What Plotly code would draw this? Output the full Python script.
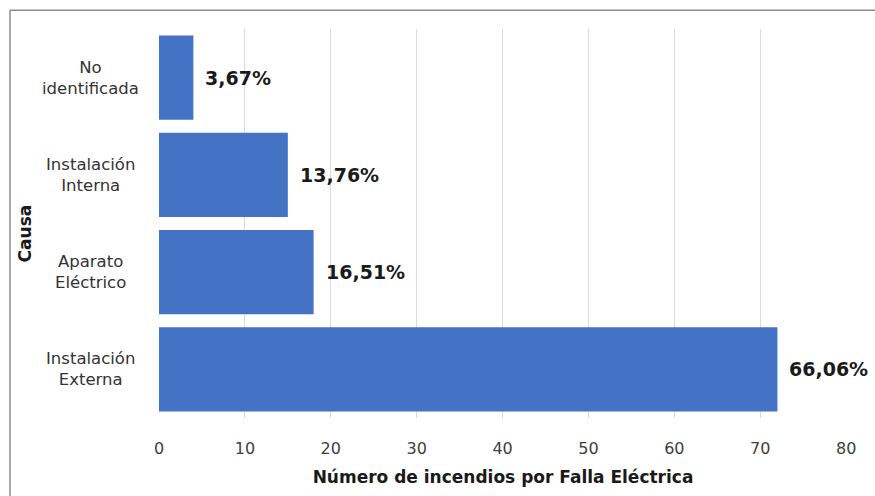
import plotly.graph_objects as go

categories = ["Instalación<br>Externa", "Aparato<br>Eléctrico", "Instalación<br>Interna", "No<br>identificada"]
values = [72, 18, 15, 4]
labels = ["66,06%", "16,51%", "13,76%", "3,67%"]

FONT = "DejaVu Sans"
L, R, T, B = 159, 28, 29, 75
W, H = 875, 496
PW, PH = W - L - R, H - T - B

def px_x(p):
    return (p - L) / PW

def px_y(p):
    return 1 - (p - T) / PH

fig = go.Figure()
fig.add_trace(go.Bar(
    y=categories, x=values, orientation="h",
    marker=dict(color="#4472C4", line=dict(width=0)),
    hoverinfo="skip",
))
for c, v, t in zip(categories, values, labels):
    fig.add_annotation(x=v, y=c, text="<b>" + t + "</b>", showarrow=False,
                       xanchor="left", xshift=10,
                       font=dict(family=FONT, size=19, color="#1a1a1a"))
    fig.add_annotation(x=px_x(90), xref="paper", y=c, yref="y", text=c, showarrow=False,
                       xanchor="center", align="center",
                       font=dict(family=FONT, size=16.5, color="#333333"))

fig.add_annotation(x=px_x(25), xref="paper", y=px_y(235), yref="paper", text="<b>Causa</b>",
                   showarrow=False, textangle=-90, xanchor="center", yanchor="middle",
                   font=dict(family=FONT, size=17, color="#1a1a1a"))

fig.update_layout(
    width=W, height=H,
    margin=dict(l=L, r=R, t=T, b=B),
    paper_bgcolor="white", plot_bgcolor="white",
    bargap=0.135,
    showlegend=False,
    font=dict(family=FONT, size=15, color="#333333"),
    xaxis=dict(range=[0, 80.1], dtick=10, showgrid=True, gridcolor="#d9d9d9", gridwidth=1,
               zeroline=False, showline=False, ticks="", ticklen=0,
               ticklabelstandoff=19,
               tickfont=dict(size=16, color="#404040"),
               title=dict(text="<b>Número de incendios por Falla Eléctrica</b>",
                          font=dict(size=17, color="#1a1a1a"), standoff=14)),
    yaxis=dict(showgrid=False, zeroline=False, showline=False, ticks="",
               showticklabels=False),
    shapes=[
        dict(type="line", xref="paper", yref="paper", x0=px_x(10), x1=px_x(900), y0=px_y(10), y1=px_y(10),
             line=dict(color="#8c8c8c", width=1.5)),
        dict(type="line", xref="paper", yref="paper", x0=px_x(10), x1=px_x(10), y0=px_y(520), y1=px_y(10),
             line=dict(color="#8c8c8c", width=1.5)),
    ],
)
fig.write_html("out.html", config={"displayModeBar": False},
               post_script="document.body.style.margin='0px';")
